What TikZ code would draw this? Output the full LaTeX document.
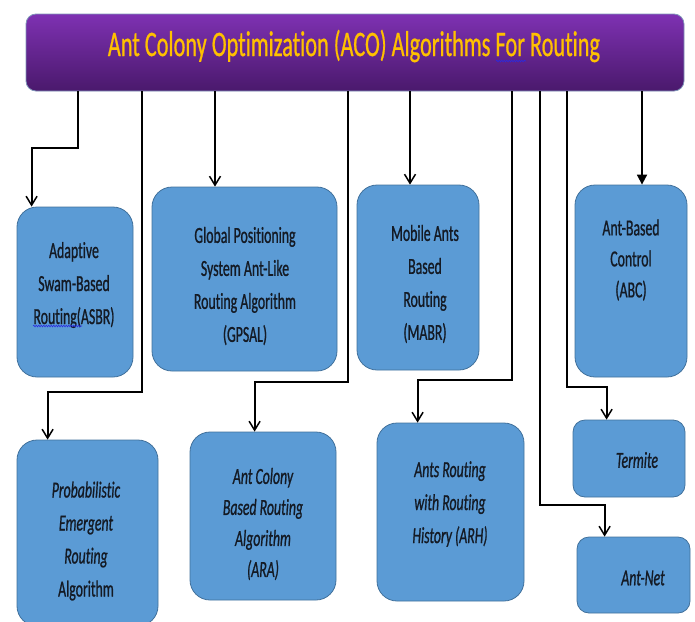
\documentclass[tikz,border=0pt]{standalone}
\usepackage{fontspec}
\setmainfont{Carlito}
\newfontfamily\nfont[FakeStretch=0.6,FakeBold=0.8,Ligatures=NoCommon]{Carlito}
\newfontfamily\tfont[FakeStretch=0.62,FakeBold=0.6,Ligatures=NoCommon]{Carlito}
\usetikzlibrary{arrows.meta,decorations.pathmorphing}
\definecolor{boxfill}{HTML}{5B9BD5}
\definecolor{boxedge}{HTML}{41719C}
\definecolor{ptop}{HTML}{7E31B2}
\definecolor{pbot}{HTML}{4A196C}
\definecolor{gold}{HTML}{FFC000}
\definecolor{pedge}{HTML}{7F95B8}
\definecolor{squig}{HTML}{2A2AE0}
\definecolor{ink}{HTML}{141A24}
\begin{document}
\begin{tikzpicture}[x=1pt,y=-1pt,
  bx/.style={draw=boxedge, line width=0.8pt, fill=boxfill, rounded corners=20pt, inner sep=0pt},
  sbx/.style={bx, rounded corners=12pt},
  txt/.style={align=center, inner sep=0pt, font=\nfont\fontsize{23}{33}\selectfont, text=ink},
  txtn/.style={txt, font=\nfont\fontsize{23}{31}\selectfont},
  conn/.style={line width=1.8pt, -{Straight Barb[length=9pt,width=11pt,line width=1.5pt]}},
  connf/.style={line width=1.8pt, -{Triangle[length=10pt,width=10pt]}},
  squiggle/.style={squig, line width=0.6pt, decorate, decoration={snake, amplitude=0.8pt, segment length=2.5pt}}
]
\useasboundingbox (0,0) rectangle (695,621);

% title bar
\node[draw=pedge, line width=0.8pt, top color=ptop, bottom color=pbot, rounded corners=10pt,
      minimum width=658pt, minimum height=77pt, inner sep=0pt] (title) at (355,52.5) {};
\node[inner sep=0pt, text=gold, font=\tfont\fontsize{36}{40}\selectfont] (title-t) at (354,46)
  {Ant Colony Optimization (ACO) Algorithms For Routing};
\draw[squiggle] (496,61) -- (526,61);

% boxes
\node[bx, minimum width=116pt, minimum height=170pt] (asbr) at (75,292) {};
\node[bx, minimum width=141pt, minimum height=186pt] (peer) at (87.5,533) {};
\node[bx, minimum width=185pt, minimum height=184pt] (gpsal) at (244.5,279) {};
\node[bx, minimum width=146pt, minimum height=168pt] (ara) at (263,516) {};
\node[bx, minimum width=122pt, minimum height=185pt] (mabr) at (418,277.5) {};
\node[bx, minimum width=147pt, minimum height=178pt] (arh) at (450.5,512) {};
\node[bx, minimum width=112pt, minimum height=192pt] (abc) at (631,281) {};
\node[sbx, minimum width=112pt, minimum height=77pt] (termite) at (629,458.5) {};
\node[sbx, minimum width=113pt, minimum height=76pt] (antnet) at (633.5,575) {};

% texts
\node[txt] (asbr-t) at (74,285) {Adaptive\\Swam-Based\\Routing(ASBR)};
\draw[squiggle] (33,326) -- (82,326);
\node[txt] (gpsal-t) at (245,286) {Global Positioning\\System Ant-Like\\Routing Algorithm\\(GPSAL)};
\node[txt] (mabr-t) at (425,284) {Mobile Ants\\Based\\Routing\\(MABR)};
\node[txtn] (abc-t) at (631,260) {Ant-Based\\Control\\(ABC)};
\node[txt] (peer-t) at (86,541) {\itshape Probabilistic\\\itshape Emergent\\\itshape Routing\\Algorithm};
\node[txtn] (ara-t) at (263,524) {\itshape Ant Colony\\\itshape Based Routing\\\itshape Algorithm\\\itshape (ARA)};
\node[txt] (arh-t) at (450,504) {\itshape Ants Routing\\\itshape with Routing\\\itshape History (ARH)};
\node[txt] (termite-t) at (637,460) {\itshape Termite};
\node[txt] (antnet-t) at (643,578) {\itshape Ant-Net};

% connector bends
\coordinate (b1) at (78,148);
\coordinate (b2) at (142,392);
\coordinate (b4) at (348,382);
\coordinate (b6) at (512,380);
\coordinate (b7) at (540,505);
\coordinate (b8) at (567,387);
\coordinate (e3) at ([xshift=-29.5pt]gpsal.north);
\coordinate (e5) at ([xshift=-8pt]mabr.north);
\coordinate (e9) at ([xshift=11pt]abc.north);

% connectors
\draw[conn] (title.south -| b1) -- (b1) -| ([xshift=15pt]asbr.north west);
\draw[conn] (title.south -| b2) -- (b2) -| ([xshift=31pt]peer.north west);
\draw[conn] (title.south -| e3) -- (e3);
\draw[conn] (title.south -| b4) -- (b4) -| ([xshift=65pt]ara.north west);
\draw[conn] (title.south -| e5) -- (e5);
\draw[conn] (title.south -| b6) -- (b6) -| ([xshift=41pt]arh.north west);
\draw[conn] (title.south -| b7) -- (b7) -| ([xshift=28pt]antnet.north west);
\draw[conn] (title.south -| b8) -- (b8) -| ([xshift=34pt]termite.north west);
\draw[connf] (title.south -| e9) -- (e9);
\end{tikzpicture}
\end{document}
